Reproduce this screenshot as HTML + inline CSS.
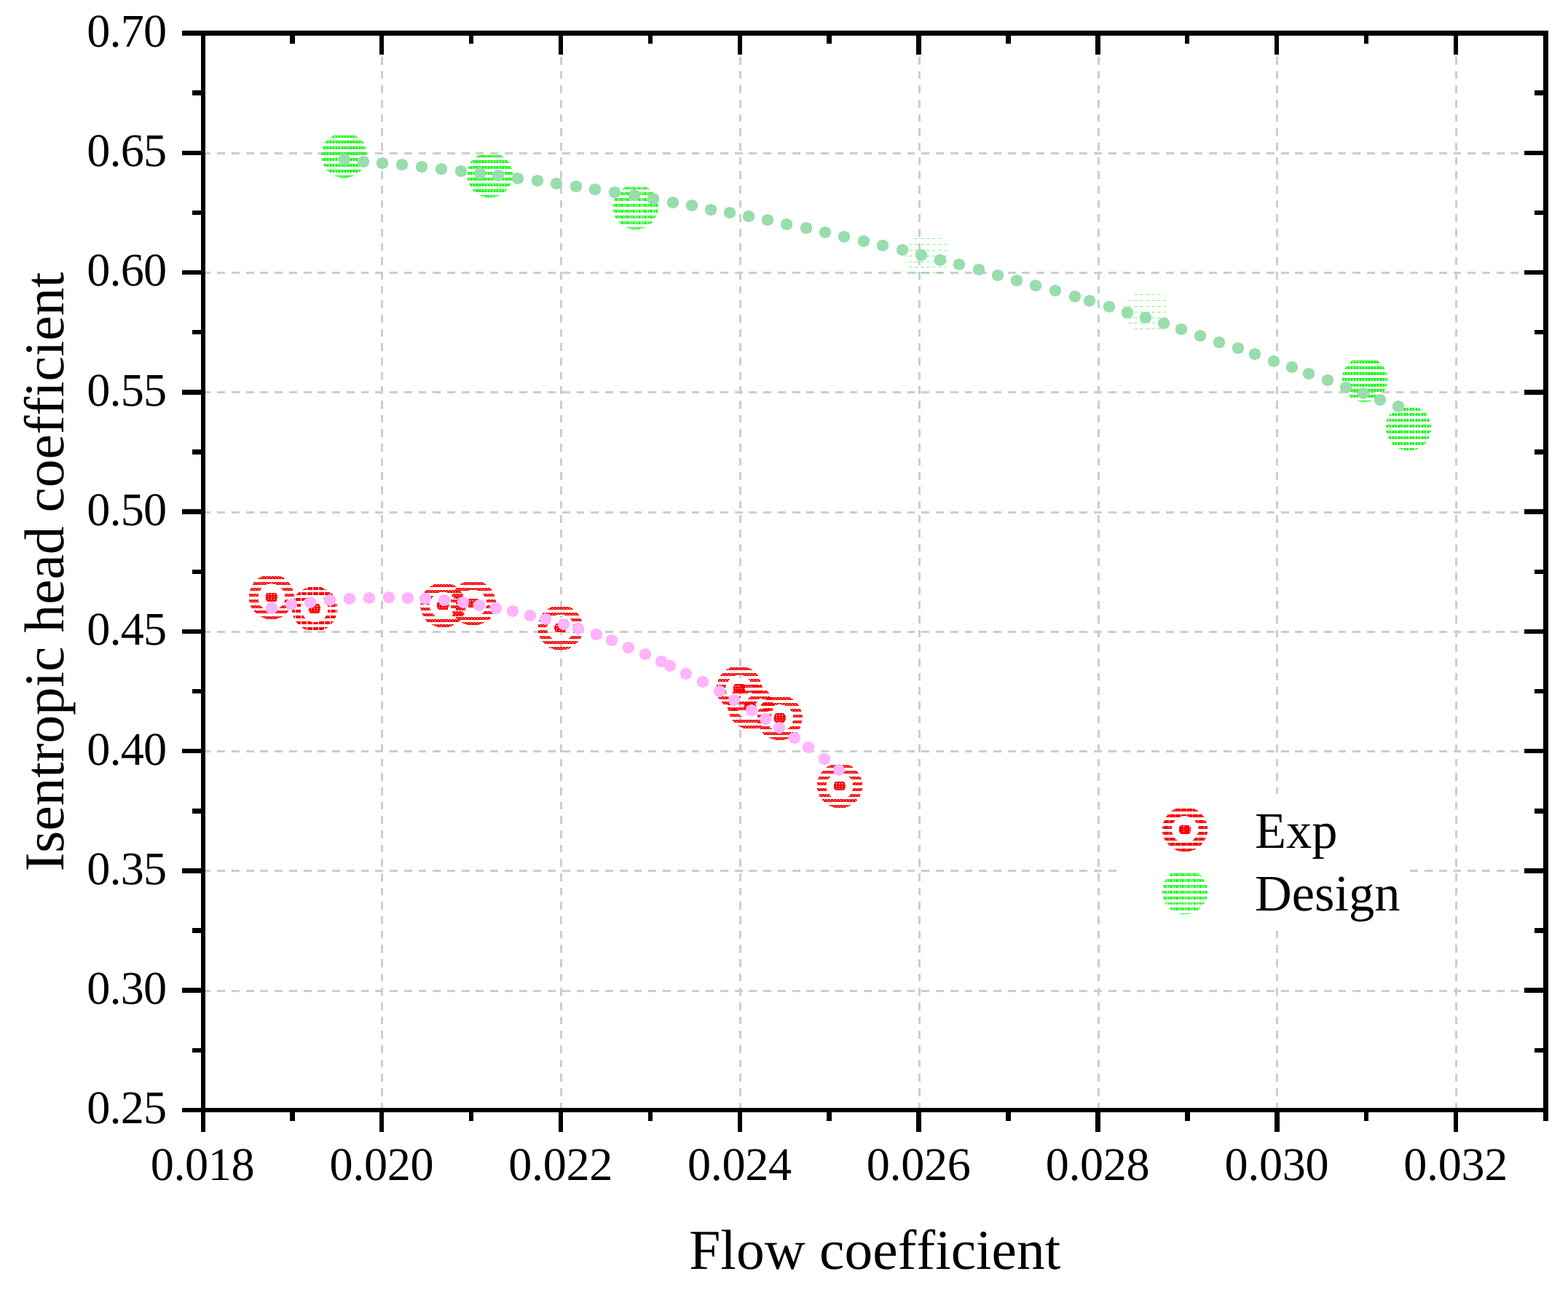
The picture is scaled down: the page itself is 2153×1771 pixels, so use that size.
<!DOCTYPE html>
<html lang="en"><head><meta charset="utf-8"><title>Isentropic head coefficient vs flow coefficient</title>
<style>
html,body{margin:0;padding:0;background:#fff;}
body{width:2153px;height:1771px;overflow:hidden;}
svg{display:block;}
text{font-family:'Liberation Serif', 'Times New Roman', serif;fill:#000;font-variant-ligatures:none;font-kerning:none;text-rendering:geometricPrecision;}
.tick{font-size:64.2px;letter-spacing:-0.85px;}
.title{font-size:77.5px;}
.leg{font-size:70.4px;}
</style></head><body>
<svg width="2153" height="1771" viewBox="0 0 2153 1771" role="img" aria-label="Isentropic head coefficient versus flow coefficient">
<defs>
<pattern id="p0" patternUnits="userSpaceOnUse" x="0" y="0" width="4" height="1"><path d="M0 0h2v1h-2zM3 0h1v1h-1z" fill="#ff0000"/></pattern>
<pattern id="p1" patternUnits="userSpaceOnUse" x="0" y="0" width="4" height="1"><path d="M1 0h3v1h-3z" fill="#ff0000"/></pattern>
<pattern id="p2" patternUnits="userSpaceOnUse" x="0" y="0" width="8" height="1"><path d="M0 0h4v1h-4zM5 0h3v1h-3z" fill="#ff0000"/></pattern>
<pattern id="p3" patternUnits="userSpaceOnUse" x="0" y="0" width="4" height="1"><path d="M0 0h2v1h-2z" fill="#00ff00"/></pattern>
<pattern id="p4" patternUnits="userSpaceOnUse" x="0" y="0" width="8" height="1"><path d="M0 0h7v1h-7z" fill="#00ff00"/></pattern>
<pattern id="p5" patternUnits="userSpaceOnUse" x="0" y="0" width="8" height="1"><path d="M0 0h1v1h-1zM3 0h2v1h-2zM7 0h1v1h-1z" fill="#00ff00"/></pattern>
<pattern id="p6" patternUnits="userSpaceOnUse" x="0" y="0" width="8" height="1"><path d="M0 0h1v1h-1zM3 0h2v1h-2zM6 0h1v1h-1z" fill="#00ff00"/></pattern>
<pattern id="p7" patternUnits="userSpaceOnUse" x="0" y="0" width="8" height="1"><path d="M1 0h1v1h-1zM7 0h1v1h-1z" fill="#00ff00"/></pattern>
<pattern id="p8" patternUnits="userSpaceOnUse" x="0" y="0" width="8" height="1"><path d="M1 0h6v1h-6z" fill="#00ff00"/></pattern>
<pattern id="p9" patternUnits="userSpaceOnUse" x="0" y="0" width="8" height="1"><path d="M0 0h3v1h-3zM5 0h2v1h-2z" fill="#00ff00"/></pattern>
<pattern id="p10" patternUnits="userSpaceOnUse" x="0" y="0" width="8" height="1"><path d="M1 0h2v1h-2zM5 0h2v1h-2z" fill="#00ff00"/></pattern>
<pattern id="p11" patternUnits="userSpaceOnUse" x="0" y="0" width="8" height="1"><path d="M0 0h1v1h-1zM2 0h6v1h-6z" fill="#ff0000"/></pattern>
<pattern id="p12" patternUnits="userSpaceOnUse" x="0" y="0" width="8" height="1"><path d="M0 0h5v1h-5zM6 0h2v1h-2z" fill="#ff0000"/></pattern>
</defs>
<rect x="0" y="0" width="2153" height="1771" fill="#ffffff"/>
<g id="grid" stroke="#cdcdcd" stroke-width="3" fill="none" shape-rendering="crispEdges">
<line x1="278.5" y1="210.5" x2="2100" y2="210.5" stroke-dasharray="10.850 8.886"/>
<line x1="278.5" y1="374.5" x2="2100" y2="374.5" stroke-dasharray="10.850 8.886"/>
<line x1="278.5" y1="538.5" x2="2100" y2="538.5" stroke-dasharray="10.850 8.886"/>
<line x1="278.5" y1="703.5" x2="2100" y2="703.5" stroke-dasharray="10.850 8.886"/>
<line x1="278.5" y1="867.5" x2="2100" y2="867.5" stroke-dasharray="10.850 8.886"/>
<line x1="278.5" y1="1031.5" x2="2100" y2="1031.5" stroke-dasharray="10.850 8.886"/>
<line x1="278.5" y1="1195.5" x2="2100" y2="1195.5" stroke-dasharray="10.850 8.886"/>
<line x1="278.5" y1="1360.5" x2="2100" y2="1360.5" stroke-dasharray="10.850 8.886"/>
<line x1="524.5" y1="58.24" x2="524.5" y2="1524" stroke-dasharray="10.850 8.817"/>
<line x1="770.5" y1="58.24" x2="770.5" y2="1524" stroke-dasharray="10.850 8.817"/>
<line x1="1016.5" y1="58.24" x2="1016.5" y2="1524" stroke-dasharray="10.850 8.817"/>
<line x1="1262.5" y1="58.24" x2="1262.5" y2="1524" stroke-dasharray="10.850 8.817"/>
<line x1="1508.5" y1="58.24" x2="1508.5" y2="1524" stroke-dasharray="10.850 8.817"/>
<line x1="1753.5" y1="58.24" x2="1753.5" y2="1524" stroke-dasharray="10.850 8.817"/>
<line x1="1999.5" y1="58.24" x2="1999.5" y2="1524" stroke-dasharray="10.850 8.817"/>
</g>
<g id="exp-inner" fill="#ffffff" shape-rendering="crispEdges">
<path d="M371 800h1v1h-1zM372 800h1v1h-1zM373 800h1v1h-1zM366 801h13v1h-13zM359 806h27v1h-27zM358 807h29v1h-29zM359 808h1v1h-1zM360 808h1v1h-1zM361 808h1v1h-1zM363 808h1v1h-1zM364 808h1v1h-1zM365 808h1v1h-1zM367 808h1v1h-1zM368 808h1v1h-1zM369 808h1v1h-1zM371 808h1v1h-1zM372 808h1v1h-1zM373 808h1v1h-1zM375 808h1v1h-1zM376 808h1v1h-1zM377 808h1v1h-1zM379 808h1v1h-1zM380 808h1v1h-1zM381 808h1v1h-1zM383 808h1v1h-1zM384 808h1v1h-1zM385 808h1v1h-1zM387 808h1v1h-1zM357 809h32v1h-32zM355 814h36v1h-36zM355 815h36v1h-36zM355 816h1v1h-1zM356 816h1v1h-1zM357 816h1v1h-1zM359 816h1v1h-1zM360 816h1v1h-1zM361 816h1v1h-1zM363 816h1v1h-1zM364 816h1v1h-1zM365 816h1v1h-1zM367 816h1v1h-1zM368 816h1v1h-1zM369 816h1v1h-1zM371 816h1v1h-1zM372 816h1v1h-1zM373 816h1v1h-1zM375 816h1v1h-1zM376 816h1v1h-1zM377 816h1v1h-1zM379 816h1v1h-1zM380 816h1v1h-1zM381 816h1v1h-1zM383 816h1v1h-1zM384 816h1v1h-1zM385 816h1v1h-1zM387 816h1v1h-1zM388 816h1v1h-1zM389 816h1v1h-1zM355 817h36v1h-36zM355 822h36v1h-36zM355 823h36v1h-36zM355 824h1v1h-1zM356 824h1v1h-1zM357 824h1v1h-1zM359 824h1v1h-1zM360 824h1v1h-1zM361 824h1v1h-1zM363 824h1v1h-1zM364 824h1v1h-1zM365 824h1v1h-1zM367 824h1v1h-1zM368 824h1v1h-1zM369 824h1v1h-1zM371 824h1v1h-1zM372 824h1v1h-1zM373 824h1v1h-1zM375 824h1v1h-1zM376 824h1v1h-1zM377 824h1v1h-1zM379 824h1v1h-1zM380 824h1v1h-1zM381 824h1v1h-1zM383 824h1v1h-1zM384 824h1v1h-1zM385 824h1v1h-1zM387 824h1v1h-1zM388 824h1v1h-1zM389 824h1v1h-1zM356 825h34v1h-34zM358 830h29v1h-29zM359 831h27v1h-27zM360 832h1v1h-1zM361 832h1v1h-1zM363 832h1v1h-1zM364 832h1v1h-1zM365 832h1v1h-1zM367 832h1v1h-1zM368 832h1v1h-1zM369 832h1v1h-1zM371 832h1v1h-1zM372 832h1v1h-1zM373 832h1v1h-1zM375 832h1v1h-1zM376 832h1v1h-1zM377 832h1v1h-1zM379 832h1v1h-1zM380 832h1v1h-1zM381 832h1v1h-1zM383 832h1v1h-1zM384 832h1v1h-1zM361 833h23v1h-23z"/>
<path d="M420 820h24v1h-24zM419 821h26v1h-26zM418 822h1v1h-1zM419 822h1v1h-1zM420 822h1v1h-1zM422 822h1v1h-1zM423 822h1v1h-1zM424 822h1v1h-1zM426 822h1v1h-1zM427 822h1v1h-1zM428 822h1v1h-1zM430 822h1v1h-1zM431 822h1v1h-1zM432 822h1v1h-1zM434 822h1v1h-1zM435 822h1v1h-1zM436 822h1v1h-1zM438 822h1v1h-1zM439 822h1v1h-1zM440 822h1v1h-1zM442 822h1v1h-1zM443 822h1v1h-1zM444 822h1v1h-1zM417 823h30v1h-30zM415 828h34v1h-34zM414 829h36v1h-36zM414 830h1v1h-1zM415 830h1v1h-1zM416 830h1v1h-1zM418 830h1v1h-1zM419 830h1v1h-1zM420 830h1v1h-1zM422 830h1v1h-1zM423 830h1v1h-1zM424 830h1v1h-1zM426 830h1v1h-1zM427 830h1v1h-1zM428 830h1v1h-1zM430 830h1v1h-1zM431 830h1v1h-1zM432 830h1v1h-1zM434 830h1v1h-1zM435 830h1v1h-1zM436 830h1v1h-1zM438 830h1v1h-1zM439 830h1v1h-1zM440 830h1v1h-1zM442 830h1v1h-1zM443 830h1v1h-1zM444 830h1v1h-1zM446 830h1v1h-1zM447 830h1v1h-1zM448 830h1v1h-1zM414 831h36v1h-36zM414 836h36v1h-36zM414 837h36v1h-36zM414 838h1v1h-1zM415 838h1v1h-1zM416 838h1v1h-1zM418 838h1v1h-1zM419 838h1v1h-1zM420 838h1v1h-1zM422 838h1v1h-1zM423 838h1v1h-1zM424 838h1v1h-1zM426 838h1v1h-1zM427 838h1v1h-1zM428 838h1v1h-1zM430 838h1v1h-1zM431 838h1v1h-1zM432 838h1v1h-1zM434 838h1v1h-1zM435 838h1v1h-1zM436 838h1v1h-1zM438 838h1v1h-1zM439 838h1v1h-1zM440 838h1v1h-1zM442 838h1v1h-1zM443 838h1v1h-1zM444 838h1v1h-1zM446 838h1v1h-1zM447 838h1v1h-1zM448 838h1v1h-1zM414 839h36v1h-36zM417 844h31v1h-31zM417 845h30v1h-30zM418 846h1v1h-1zM419 846h1v1h-1zM420 846h1v1h-1zM422 846h1v1h-1zM423 846h1v1h-1zM424 846h1v1h-1zM426 846h1v1h-1zM427 846h1v1h-1zM428 846h1v1h-1zM430 846h1v1h-1zM431 846h1v1h-1zM432 846h1v1h-1zM434 846h1v1h-1zM435 846h1v1h-1zM436 846h1v1h-1zM438 846h1v1h-1zM439 846h1v1h-1zM440 846h1v1h-1zM442 846h1v1h-1zM443 846h1v1h-1zM444 846h1v1h-1zM419 847h26v1h-26zM427 852h10v1h-10z"/>
<path d="M603 812h11v1h-11zM595 817h27v1h-27zM594 818h29v1h-29zM594 819h1v1h-1zM595 819h1v1h-1zM596 819h1v1h-1zM598 819h1v1h-1zM599 819h1v1h-1zM600 819h1v1h-1zM602 819h1v1h-1zM603 819h1v1h-1zM604 819h1v1h-1zM606 819h1v1h-1zM607 819h1v1h-1zM608 819h1v1h-1zM610 819h1v1h-1zM611 819h1v1h-1zM612 819h1v1h-1zM614 819h1v1h-1zM615 819h1v1h-1zM616 819h1v1h-1zM618 819h1v1h-1zM619 819h1v1h-1zM620 819h1v1h-1zM622 819h1v1h-1zM593 820h31v1h-31zM591 825h35v1h-35zM590 826h36v1h-36zM590 827h1v1h-1zM591 827h1v1h-1zM592 827h1v1h-1zM594 827h1v1h-1zM595 827h1v1h-1zM596 827h1v1h-1zM598 827h1v1h-1zM599 827h1v1h-1zM600 827h1v1h-1zM602 827h1v1h-1zM603 827h1v1h-1zM604 827h1v1h-1zM606 827h1v1h-1zM607 827h1v1h-1zM608 827h1v1h-1zM610 827h1v1h-1zM611 827h1v1h-1zM612 827h1v1h-1zM614 827h1v1h-1zM615 827h1v1h-1zM616 827h1v1h-1zM618 827h1v1h-1zM619 827h1v1h-1zM620 827h1v1h-1zM622 827h1v1h-1zM623 827h1v1h-1zM624 827h1v1h-1zM590 828h37v1h-37zM590 833h36v1h-36zM590 834h36v1h-36zM591 835h1v1h-1zM592 835h1v1h-1zM594 835h1v1h-1zM595 835h1v1h-1zM596 835h1v1h-1zM598 835h1v1h-1zM599 835h1v1h-1zM600 835h1v1h-1zM602 835h1v1h-1zM603 835h1v1h-1zM604 835h1v1h-1zM606 835h1v1h-1zM607 835h1v1h-1zM608 835h1v1h-1zM610 835h1v1h-1zM611 835h1v1h-1zM612 835h1v1h-1zM614 835h1v1h-1zM615 835h1v1h-1zM616 835h1v1h-1zM618 835h1v1h-1zM619 835h1v1h-1zM620 835h1v1h-1zM622 835h1v1h-1zM623 835h1v1h-1zM624 835h1v1h-1zM591 836h35v1h-35zM594 841h29v1h-29zM595 842h27v1h-27zM596 843h1v1h-1zM598 843h1v1h-1zM599 843h1v1h-1zM600 843h1v1h-1zM602 843h1v1h-1zM603 843h1v1h-1zM604 843h1v1h-1zM606 843h1v1h-1zM607 843h1v1h-1zM608 843h1v1h-1zM610 843h1v1h-1zM611 843h1v1h-1zM612 843h1v1h-1zM614 843h1v1h-1zM615 843h1v1h-1zM616 843h1v1h-1zM618 843h1v1h-1zM619 843h1v1h-1zM620 843h1v1h-1zM597 844h23v1h-23z"/>
<path d="M644 809h11v1h-11zM636 814h27v1h-27zM636 815h28v1h-28zM636 816h1v1h-1zM637 816h1v1h-1zM638 816h1v1h-1zM640 816h1v1h-1zM641 816h1v1h-1zM642 816h1v1h-1zM644 816h1v1h-1zM645 816h1v1h-1zM646 816h1v1h-1zM648 816h1v1h-1zM649 816h1v1h-1zM650 816h1v1h-1zM652 816h1v1h-1zM653 816h1v1h-1zM654 816h1v1h-1zM656 816h1v1h-1zM657 816h1v1h-1zM658 816h1v1h-1zM660 816h1v1h-1zM661 816h1v1h-1zM662 816h1v1h-1zM664 816h1v1h-1zM634 817h31v1h-31zM632 822h36v1h-36zM632 823h36v1h-36zM632 824h1v1h-1zM633 824h1v1h-1zM634 824h1v1h-1zM636 824h1v1h-1zM637 824h1v1h-1zM638 824h1v1h-1zM640 824h1v1h-1zM641 824h1v1h-1zM642 824h1v1h-1zM644 824h1v1h-1zM645 824h1v1h-1zM646 824h1v1h-1zM648 824h1v1h-1zM649 824h1v1h-1zM650 824h1v1h-1zM652 824h1v1h-1zM653 824h1v1h-1zM654 824h1v1h-1zM656 824h1v1h-1zM657 824h1v1h-1zM658 824h1v1h-1zM660 824h1v1h-1zM661 824h1v1h-1zM662 824h1v1h-1zM664 824h1v1h-1zM665 824h1v1h-1zM666 824h1v1h-1zM632 825h36v1h-36zM632 830h36v1h-36zM632 831h36v1h-36zM632 832h1v1h-1zM633 832h1v1h-1zM634 832h1v1h-1zM636 832h1v1h-1zM637 832h1v1h-1zM638 832h1v1h-1zM640 832h1v1h-1zM641 832h1v1h-1zM642 832h1v1h-1zM644 832h1v1h-1zM645 832h1v1h-1zM646 832h1v1h-1zM648 832h1v1h-1zM649 832h1v1h-1zM650 832h1v1h-1zM652 832h1v1h-1zM653 832h1v1h-1zM654 832h1v1h-1zM656 832h1v1h-1zM657 832h1v1h-1zM658 832h1v1h-1zM660 832h1v1h-1zM661 832h1v1h-1zM662 832h1v1h-1zM664 832h1v1h-1zM665 832h1v1h-1zM666 832h1v1h-1zM633 833h34v1h-34zM635 838h29v1h-29zM636 839h28v1h-28zM637 840h1v1h-1zM638 840h1v1h-1zM640 840h1v1h-1zM641 840h1v1h-1zM642 840h1v1h-1zM644 840h1v1h-1zM645 840h1v1h-1zM646 840h1v1h-1zM648 840h1v1h-1zM649 840h1v1h-1zM650 840h1v1h-1zM652 840h1v1h-1zM653 840h1v1h-1zM654 840h1v1h-1zM656 840h1v1h-1zM657 840h1v1h-1zM658 840h1v1h-1zM660 840h1v1h-1zM661 840h1v1h-1zM662 840h1v1h-1zM638 841h24v1h-24z"/>
<path d="M764 843h11v1h-11zM756 848h27v1h-27zM755 849h29v1h-29zM755 850h1v1h-1zM756 850h1v1h-1zM757 850h1v1h-1zM759 850h1v1h-1zM760 850h1v1h-1zM761 850h1v1h-1zM763 850h1v1h-1zM764 850h1v1h-1zM765 850h1v1h-1zM767 850h1v1h-1zM768 850h1v1h-1zM769 850h1v1h-1zM771 850h1v1h-1zM772 850h1v1h-1zM773 850h1v1h-1zM775 850h1v1h-1zM776 850h1v1h-1zM777 850h1v1h-1zM779 850h1v1h-1zM780 850h1v1h-1zM781 850h1v1h-1zM783 850h1v1h-1zM784 850h1v1h-1zM754 851h31v1h-31zM752 856h35v1h-35zM752 857h35v1h-35zM751 858h1v1h-1zM752 858h1v1h-1zM753 858h1v1h-1zM755 858h1v1h-1zM756 858h1v1h-1zM757 858h1v1h-1zM759 858h1v1h-1zM760 858h1v1h-1zM761 858h1v1h-1zM763 858h1v1h-1zM764 858h1v1h-1zM765 858h1v1h-1zM767 858h1v1h-1zM768 858h1v1h-1zM769 858h1v1h-1zM771 858h1v1h-1zM772 858h1v1h-1zM773 858h1v1h-1zM775 858h1v1h-1zM776 858h1v1h-1zM777 858h1v1h-1zM779 858h1v1h-1zM780 858h1v1h-1zM781 858h1v1h-1zM783 858h1v1h-1zM784 858h1v1h-1zM785 858h1v1h-1zM787 858h1v1h-1zM751 859h37v1h-37zM751 864h37v1h-37zM752 865h35v1h-35zM752 866h1v1h-1zM753 866h1v1h-1zM755 866h1v1h-1zM756 866h1v1h-1zM757 866h1v1h-1zM759 866h1v1h-1zM760 866h1v1h-1zM761 866h1v1h-1zM763 866h1v1h-1zM764 866h1v1h-1zM765 866h1v1h-1zM767 866h1v1h-1zM768 866h1v1h-1zM769 866h1v1h-1zM771 866h1v1h-1zM772 866h1v1h-1zM773 866h1v1h-1zM775 866h1v1h-1zM776 866h1v1h-1zM777 866h1v1h-1zM779 866h1v1h-1zM780 866h1v1h-1zM781 866h1v1h-1zM783 866h1v1h-1zM784 866h1v1h-1zM785 866h1v1h-1zM752 867h35v1h-35zM755 872h29v1h-29zM756 873h27v1h-27zM757 874h1v1h-1zM759 874h1v1h-1zM760 874h1v1h-1zM761 874h1v1h-1zM763 874h1v1h-1zM764 874h1v1h-1zM765 874h1v1h-1zM767 874h1v1h-1zM768 874h1v1h-1zM769 874h1v1h-1zM771 874h1v1h-1zM772 874h1v1h-1zM773 874h1v1h-1zM775 874h1v1h-1zM776 874h1v1h-1zM777 874h1v1h-1zM779 874h1v1h-1zM780 874h1v1h-1zM781 874h1v1h-1zM758 875h23v1h-23z"/>
<path d="M1010 926h10v1h-10zM1002 931h26v1h-26zM1001 932h28v1h-28zM1001 933h1v1h-1zM1002 933h1v1h-1zM1003 933h1v1h-1zM1005 933h1v1h-1zM1006 933h1v1h-1zM1007 933h1v1h-1zM1009 933h1v1h-1zM1010 933h1v1h-1zM1011 933h1v1h-1zM1013 933h1v1h-1zM1014 933h1v1h-1zM1015 933h1v1h-1zM1017 933h1v1h-1zM1018 933h1v1h-1zM1019 933h1v1h-1zM1021 933h1v1h-1zM1022 933h1v1h-1zM1023 933h1v1h-1zM1025 933h1v1h-1zM1026 933h1v1h-1zM1027 933h1v1h-1zM1029 933h1v1h-1zM1000 934h30v1h-30zM997 939h36v1h-36zM997 940h36v1h-36zM997 941h1v1h-1zM998 941h1v1h-1zM999 941h1v1h-1zM1001 941h1v1h-1zM1002 941h1v1h-1zM1003 941h1v1h-1zM1005 941h1v1h-1zM1006 941h1v1h-1zM1007 941h1v1h-1zM1009 941h1v1h-1zM1010 941h1v1h-1zM1011 941h1v1h-1zM1013 941h1v1h-1zM1014 941h1v1h-1zM1015 941h1v1h-1zM1017 941h1v1h-1zM1018 941h1v1h-1zM1019 941h1v1h-1zM1021 941h1v1h-1zM1022 941h1v1h-1zM1023 941h1v1h-1zM1025 941h1v1h-1zM1026 941h1v1h-1zM1027 941h1v1h-1zM1029 941h1v1h-1zM1030 941h1v1h-1zM1031 941h1v1h-1zM997 942h36v1h-36zM997 947h36v1h-36zM997 948h36v1h-36zM997 949h1v1h-1zM998 949h1v1h-1zM999 949h1v1h-1zM1001 949h1v1h-1zM1002 949h1v1h-1zM1003 949h1v1h-1zM1005 949h1v1h-1zM1006 949h1v1h-1zM1007 949h1v1h-1zM1009 949h1v1h-1zM1010 949h1v1h-1zM1011 949h1v1h-1zM1013 949h1v1h-1zM1014 949h1v1h-1zM1015 949h1v1h-1zM1017 949h1v1h-1zM1018 949h1v1h-1zM1019 949h1v1h-1zM1021 949h1v1h-1zM1022 949h1v1h-1zM1023 949h1v1h-1zM1025 949h1v1h-1zM1026 949h1v1h-1zM1027 949h1v1h-1zM1029 949h1v1h-1zM1030 949h1v1h-1zM1031 949h1v1h-1zM998 950h34v1h-34zM1000 955h30v1h-30zM1001 956h28v1h-28zM1002 957h1v1h-1zM1003 957h1v1h-1zM1005 957h1v1h-1zM1006 957h1v1h-1zM1007 957h1v1h-1zM1009 957h1v1h-1zM1010 957h1v1h-1zM1011 957h1v1h-1zM1013 957h1v1h-1zM1014 957h1v1h-1zM1015 957h1v1h-1zM1017 957h1v1h-1zM1018 957h1v1h-1zM1019 957h1v1h-1zM1021 957h1v1h-1zM1022 957h1v1h-1zM1023 957h1v1h-1zM1025 957h1v1h-1zM1026 957h1v1h-1zM1027 957h1v1h-1zM1003 958h24v1h-24z"/>
<path d="M1027 950h7v1h-7zM1018 955h25v1h-25zM1017 956h27v1h-27zM1016 957h1v1h-1zM1017 957h1v1h-1zM1018 957h1v1h-1zM1020 957h1v1h-1zM1021 957h1v1h-1zM1022 957h1v1h-1zM1024 957h1v1h-1zM1025 957h1v1h-1zM1026 957h1v1h-1zM1028 957h1v1h-1zM1029 957h1v1h-1zM1030 957h1v1h-1zM1032 957h1v1h-1zM1033 957h1v1h-1zM1034 957h1v1h-1zM1036 957h1v1h-1zM1037 957h1v1h-1zM1038 957h1v1h-1zM1040 957h1v1h-1zM1041 957h1v1h-1zM1042 957h1v1h-1zM1044 957h1v1h-1zM1015 958h31v1h-31zM1013 963h35v1h-35zM1012 964h36v1h-36zM1012 965h1v1h-1zM1013 965h1v1h-1zM1014 965h1v1h-1zM1016 965h1v1h-1zM1017 965h1v1h-1zM1018 965h1v1h-1zM1020 965h1v1h-1zM1021 965h1v1h-1zM1022 965h1v1h-1zM1024 965h1v1h-1zM1025 965h1v1h-1zM1026 965h1v1h-1zM1028 965h1v1h-1zM1029 965h1v1h-1zM1030 965h1v1h-1zM1032 965h1v1h-1zM1033 965h1v1h-1zM1034 965h1v1h-1zM1036 965h1v1h-1zM1037 965h1v1h-1zM1038 965h1v1h-1zM1040 965h1v1h-1zM1041 965h1v1h-1zM1042 965h1v1h-1zM1044 965h1v1h-1zM1045 965h1v1h-1zM1046 965h1v1h-1zM1012 966h36v1h-36zM1012 971h36v1h-36zM1012 972h36v1h-36zM1013 973h1v1h-1zM1014 973h1v1h-1zM1016 973h1v1h-1zM1017 973h1v1h-1zM1018 973h1v1h-1zM1020 973h1v1h-1zM1021 973h1v1h-1zM1022 973h1v1h-1zM1024 973h1v1h-1zM1025 973h1v1h-1zM1026 973h1v1h-1zM1028 973h1v1h-1zM1029 973h1v1h-1zM1030 973h1v1h-1zM1032 973h1v1h-1zM1033 973h1v1h-1zM1034 973h1v1h-1zM1036 973h1v1h-1zM1037 973h1v1h-1zM1038 973h1v1h-1zM1040 973h1v1h-1zM1041 973h1v1h-1zM1042 973h1v1h-1zM1044 973h1v1h-1zM1045 973h1v1h-1zM1046 973h1v1h-1zM1013 974h35v1h-35zM1015 979h30v1h-30zM1016 980h29v1h-29zM1017 981h1v1h-1zM1018 981h1v1h-1zM1020 981h1v1h-1zM1021 981h1v1h-1zM1022 981h1v1h-1zM1024 981h1v1h-1zM1025 981h1v1h-1zM1026 981h1v1h-1zM1028 981h1v1h-1zM1029 981h1v1h-1zM1030 981h1v1h-1zM1032 981h1v1h-1zM1033 981h1v1h-1zM1034 981h1v1h-1zM1036 981h1v1h-1zM1037 981h1v1h-1zM1038 981h1v1h-1zM1040 981h1v1h-1zM1041 981h1v1h-1zM1042 981h1v1h-1zM1018 982h25v1h-25z"/>
<path d="M1067 966h1v1h-1zM1069 966h1v1h-1zM1070 966h1v1h-1zM1071 966h1v1h-1zM1073 966h1v1h-1zM1064 967h14v1h-14zM1057 972h28v1h-28zM1056 973h29v1h-29zM1055 974h1v1h-1zM1057 974h1v1h-1zM1058 974h1v1h-1zM1059 974h1v1h-1zM1061 974h1v1h-1zM1062 974h1v1h-1zM1063 974h1v1h-1zM1065 974h1v1h-1zM1066 974h1v1h-1zM1067 974h1v1h-1zM1069 974h1v1h-1zM1070 974h1v1h-1zM1071 974h1v1h-1zM1073 974h1v1h-1zM1074 974h1v1h-1zM1075 974h1v1h-1zM1077 974h1v1h-1zM1078 974h1v1h-1zM1079 974h1v1h-1zM1081 974h1v1h-1zM1082 974h1v1h-1zM1083 974h1v1h-1zM1085 974h1v1h-1zM1055 975h32v1h-32zM1053 980h36v1h-36zM1053 981h36v1h-36zM1053 982h1v1h-1zM1054 982h1v1h-1zM1055 982h1v1h-1zM1057 982h1v1h-1zM1058 982h1v1h-1zM1059 982h1v1h-1zM1061 982h1v1h-1zM1062 982h1v1h-1zM1063 982h1v1h-1zM1065 982h1v1h-1zM1066 982h1v1h-1zM1067 982h1v1h-1zM1069 982h1v1h-1zM1070 982h1v1h-1zM1071 982h1v1h-1zM1073 982h1v1h-1zM1074 982h1v1h-1zM1075 982h1v1h-1zM1077 982h1v1h-1zM1078 982h1v1h-1zM1079 982h1v1h-1zM1081 982h1v1h-1zM1082 982h1v1h-1zM1083 982h1v1h-1zM1085 982h1v1h-1zM1086 982h1v1h-1zM1087 982h1v1h-1zM1052 983h37v1h-37zM1053 988h36v1h-36zM1053 989h35v1h-35zM1053 990h1v1h-1zM1054 990h1v1h-1zM1055 990h1v1h-1zM1057 990h1v1h-1zM1058 990h1v1h-1zM1059 990h1v1h-1zM1061 990h1v1h-1zM1062 990h1v1h-1zM1063 990h1v1h-1zM1065 990h1v1h-1zM1066 990h1v1h-1zM1067 990h1v1h-1zM1069 990h1v1h-1zM1070 990h1v1h-1zM1071 990h1v1h-1zM1073 990h1v1h-1zM1074 990h1v1h-1zM1075 990h1v1h-1zM1077 990h1v1h-1zM1078 990h1v1h-1zM1079 990h1v1h-1zM1081 990h1v1h-1zM1082 990h1v1h-1zM1083 990h1v1h-1zM1085 990h1v1h-1zM1086 990h1v1h-1zM1087 990h1v1h-1zM1054 991h34v1h-34zM1057 996h28v1h-28zM1057 997h27v1h-27zM1058 998h1v1h-1zM1059 998h1v1h-1zM1061 998h1v1h-1zM1062 998h1v1h-1zM1063 998h1v1h-1zM1065 998h1v1h-1zM1066 998h1v1h-1zM1067 998h1v1h-1zM1069 998h1v1h-1zM1070 998h1v1h-1zM1071 998h1v1h-1zM1073 998h1v1h-1zM1074 998h1v1h-1zM1075 998h1v1h-1zM1077 998h1v1h-1zM1078 998h1v1h-1zM1079 998h1v1h-1zM1081 998h1v1h-1zM1082 998h1v1h-1zM1060 999h22v1h-22z"/>
<path d="M1147 1060h12v1h-12zM1140 1065h26v1h-26zM1139 1066h28v1h-28zM1139 1067h1v1h-1zM1140 1067h1v1h-1zM1141 1067h1v1h-1zM1143 1067h1v1h-1zM1144 1067h1v1h-1zM1145 1067h1v1h-1zM1147 1067h1v1h-1zM1148 1067h1v1h-1zM1149 1067h1v1h-1zM1151 1067h1v1h-1zM1152 1067h1v1h-1zM1153 1067h1v1h-1zM1155 1067h1v1h-1zM1156 1067h1v1h-1zM1157 1067h1v1h-1zM1159 1067h1v1h-1zM1160 1067h1v1h-1zM1161 1067h1v1h-1zM1163 1067h1v1h-1zM1164 1067h1v1h-1zM1165 1067h1v1h-1zM1167 1067h1v1h-1zM1137 1068h32v1h-32zM1135 1073h36v1h-36zM1135 1074h36v1h-36zM1135 1075h1v1h-1zM1136 1075h1v1h-1zM1137 1075h1v1h-1zM1139 1075h1v1h-1zM1140 1075h1v1h-1zM1141 1075h1v1h-1zM1143 1075h1v1h-1zM1144 1075h1v1h-1zM1145 1075h1v1h-1zM1147 1075h1v1h-1zM1148 1075h1v1h-1zM1149 1075h1v1h-1zM1151 1075h1v1h-1zM1152 1075h1v1h-1zM1153 1075h1v1h-1zM1155 1075h1v1h-1zM1156 1075h1v1h-1zM1157 1075h1v1h-1zM1159 1075h1v1h-1zM1160 1075h1v1h-1zM1161 1075h1v1h-1zM1163 1075h1v1h-1zM1164 1075h1v1h-1zM1165 1075h1v1h-1zM1167 1075h1v1h-1zM1168 1075h1v1h-1zM1169 1075h1v1h-1zM1135 1076h36v1h-36zM1135 1081h36v1h-36zM1135 1082h36v1h-36zM1135 1083h1v1h-1zM1136 1083h1v1h-1zM1137 1083h1v1h-1zM1139 1083h1v1h-1zM1140 1083h1v1h-1zM1141 1083h1v1h-1zM1143 1083h1v1h-1zM1144 1083h1v1h-1zM1145 1083h1v1h-1zM1147 1083h1v1h-1zM1148 1083h1v1h-1zM1149 1083h1v1h-1zM1151 1083h1v1h-1zM1152 1083h1v1h-1zM1153 1083h1v1h-1zM1155 1083h1v1h-1zM1156 1083h1v1h-1zM1157 1083h1v1h-1zM1159 1083h1v1h-1zM1160 1083h1v1h-1zM1161 1083h1v1h-1zM1163 1083h1v1h-1zM1164 1083h1v1h-1zM1165 1083h1v1h-1zM1167 1083h1v1h-1zM1168 1083h1v1h-1zM1169 1083h1v1h-1zM1136 1084h34v1h-34zM1139 1089h28v1h-28zM1139 1090h28v1h-28zM1140 1091h1v1h-1zM1141 1091h1v1h-1zM1143 1091h1v1h-1zM1144 1091h1v1h-1zM1145 1091h1v1h-1zM1147 1091h1v1h-1zM1148 1091h1v1h-1zM1149 1091h1v1h-1zM1151 1091h1v1h-1zM1152 1091h1v1h-1zM1153 1091h1v1h-1zM1155 1091h1v1h-1zM1156 1091h1v1h-1zM1157 1091h1v1h-1zM1159 1091h1v1h-1zM1160 1091h1v1h-1zM1161 1091h1v1h-1zM1163 1091h1v1h-1zM1164 1091h1v1h-1zM1165 1091h1v1h-1zM1141 1092h24v1h-24z"/>
</g>
<rect id="legend-bg" x="1534" y="1090" width="401" height="187" fill="#ffffff"/>
<g id="series-exp" shape-rendering="crispEdges">
<g transform="translate(342,0)"><path fill="url(#p0)" d="M17 791h27v1h-27zM7 799h47v1h-47zM2 807h15v1h-15zM44 807h15v1h-15zM0 815h13v1h-13zM49 815h12v1h-12zM0 823h13v1h-13zM49 823h13v1h-13zM2 831h14v1h-14zM45 831h15v1h-15zM7 838h48v1h-48zM16 846h30v1h-30zM24 815h14v1h-14zM23 816h15v1h-15zM23 819h16v1h-16zM23 822h16v1h-16z"/><path fill="#ff0000" d="M16 792h30v1h-30zM12 794h37v1h-37zM6 800h49v1h-49zM5 802h19v1h-19zM37 802h20v1h-20zM2 808h14v1h-14zM45 808h15v1h-15zM1 810h14v1h-14zM47 810h13v1h-13zM0 816h13v1h-13zM49 816h13v1h-13zM0 818h13v1h-13zM49 818h13v1h-13zM0 824h13v1h-13zM49 824h12v1h-12zM0 826h14v1h-14zM48 826h13v1h-13zM2 832h15v1h-15zM44 832h15v1h-15zM3 834h16v1h-16zM42 834h16v1h-16zM7 839h47v1h-47zM9 841h43v1h-43zM18 847h26v1h-26zM23 849h15v1h-15zM24 814h13v1h-13zM23 817h16v1h-16zM23 818h16v1h-16zM23 820h16v1h-16zM23 821h16v1h-16zM23 823h15v1h-15zM24 824h14v1h-14zM25 825h12v1h-12z"/><path fill="url(#p1)" d="M14 793h34v1h-34zM6 801h22v1h-22zM33 801h23v1h-23zM2 809h14v1h-14zM46 809h14v1h-14zM0 817h13v1h-13zM49 817h13v1h-13zM0 825h13v1h-13zM48 825h13v1h-13zM3 833h15v1h-15zM43 833h16v1h-16zM8 840h45v1h-45zM20 848h21v1h-21z"/></g>
<g transform="translate(401,0)"><path fill="url(#p2)" d="M22 806h19v1h-19zM19 807h24v1h-24zM17 808h28v1h-28zM15 809h32v1h-32zM9 813h44v1h-44zM8 814h46v1h-46zM7 815h48v1h-48zM6 816h50v1h-50zM3 821h16v1h-16zM43 821h16v1h-16zM3 822h15v1h-15zM44 822h15v1h-15zM2 823h15v1h-15zM45 823h15v1h-15zM2 824h14v1h-14zM46 824h14v1h-14zM1 829h13v1h-13zM48 829h14v1h-14zM0 830h13v1h-13zM49 830h13v1h-13zM0 831h13v1h-13zM49 831h13v1h-13zM0 832h13v1h-13zM49 832h13v1h-13zM0 837h13v1h-13zM49 837h13v1h-13zM0 838h13v1h-13zM49 838h13v1h-13zM0 839h13v1h-13zM49 839h13v1h-13zM0 840h13v1h-13zM49 840h13v1h-13zM2 845h14v1h-14zM47 845h13v1h-13zM2 846h14v1h-14zM46 846h14v1h-14zM2 847h15v1h-15zM45 847h15v1h-15zM3 848h15v1h-15zM44 848h15v1h-15zM6 853h20v1h-20zM36 853h21v1h-21zM6 854h50v1h-50zM7 855h48v1h-48zM8 856h46v1h-46zM14 861h35v1h-35zM15 862h32v1h-32zM17 863h28v1h-28zM19 864h24v1h-24z"/><path fill="#ff0000" d="M25 829h12v1h-12zM24 830h14v1h-14zM23 833h16v1h-16zM23 834h16v1h-16zM23 836h16v1h-16zM23 837h16v1h-16zM24 839h14v1h-14zM24 840h14v1h-14zM25 841h12v1h-12z"/><path fill="url(#p0)" d="M24 831h14v1h-14zM23 832h16v1h-16zM23 835h16v1h-16zM23 838h16v1h-16z"/></g>
<g transform="translate(577,0)"><path fill="url(#p0)" d="M19 802h25v1h-25zM8 810h47v1h-47zM3 818h15v1h-15zM45 818h15v1h-15zM1 826h13v1h-13zM49 826h13v1h-13zM0 834h13v1h-13zM49 834h13v1h-13zM2 842h15v1h-15zM46 842h14v1h-14zM7 850h49v1h-49zM16 857h31v1h-31zM24 827h15v1h-15zM23 828h16v1h-16zM23 831h17v1h-17zM24 834h15v1h-15z"/><path fill="#ff0000" d="M17 803h29v1h-29zM13 805h36v1h-36zM7 811h48v1h-48zM6 813h20v1h-20zM37 813h20v1h-20zM3 819h14v1h-14zM46 819h14v1h-14zM2 821h14v1h-14zM47 821h14v1h-14zM1 827h12v1h-12zM49 827h13v1h-13zM0 829h13v1h-13zM50 829h12v1h-12zM1 835h12v1h-12zM49 835h13v1h-13zM1 837h13v1h-13zM49 837h13v1h-13zM3 843h15v1h-15zM45 843h15v1h-15zM4 845h16v1h-16zM43 845h16v1h-16zM8 851h47v1h-47zM9 853h44v1h-44zM18 858h27v1h-27zM23 860h17v1h-17zM25 825h12v1h-12zM24 826h14v1h-14zM23 829h16v1h-16zM23 830h17v1h-17zM23 832h16v1h-16zM23 833h16v1h-16zM24 835h14v1h-14zM25 836h13v1h-13z"/><path fill="url(#p1)" d="M15 804h33v1h-33zM6 812h50v1h-50zM2 820h14v1h-14zM46 820h14v1h-14zM0 828h13v1h-13zM49 828h13v1h-13zM1 836h13v1h-13zM49 836h13v1h-13zM3 844h16v1h-16zM44 844h15v1h-15zM8 852h46v1h-46zM20 859h23v1h-23z"/></g>
<g transform="translate(619,0)"><path fill="url(#p0)" d="M18 799h26v1h-26zM7 807h47v1h-47zM2 815h15v1h-15zM44 815h15v1h-15zM0 823h13v1h-13zM49 823h12v1h-12zM0 831h13v1h-13zM49 831h13v1h-13zM2 839h14v1h-14zM45 839h15v1h-15zM6 847h49v1h-49zM15 854h31v1h-31zM23 824h15v1h-15zM23 825h16v1h-16zM23 828h16v1h-16zM23 831h15v1h-15z"/><path fill="#ff0000" d="M16 800h30v1h-30zM13 802h36v1h-36zM7 808h48v1h-48zM5 810h20v1h-20zM36 810h20v1h-20zM2 816h15v1h-15zM45 816h15v1h-15zM1 818h14v1h-14zM46 818h14v1h-14zM0 824h13v1h-13zM49 824h13v1h-13zM0 826h13v1h-13zM49 826h13v1h-13zM0 832h13v1h-13zM49 832h13v1h-13zM0 834h14v1h-14zM48 834h13v1h-13zM2 840h15v1h-15zM45 840h14v1h-14zM3 842h16v1h-16zM43 842h15v1h-15zM7 848h48v1h-48zM9 850h44v1h-44zM17 855h27v1h-27zM22 857h17v1h-17zM25 822h12v1h-12zM24 823h14v1h-14zM23 826h16v1h-16zM23 827h16v1h-16zM23 829h16v1h-16zM23 830h16v1h-16zM24 832h14v1h-14zM24 833h13v1h-13z"/><path fill="url(#p1)" d="M14 801h33v1h-33zM6 809h50v1h-50zM2 817h14v1h-14zM46 817h14v1h-14zM0 825h13v1h-13zM49 825h13v1h-13zM0 833h13v1h-13zM48 833h13v1h-13zM3 841h15v1h-15zM44 841h15v1h-15zM8 849h46v1h-46zM19 856h23v1h-23z"/></g>
<g transform="translate(738,0)"><path fill="url(#p0)" d="M19 833h25v1h-25zM8 841h47v1h-47zM3 849h15v1h-15zM45 849h15v1h-15zM1 857h13v1h-13zM49 857h13v1h-13zM1 865h12v1h-12zM50 865h12v1h-12zM3 873h14v1h-14zM46 873h14v1h-14zM7 880h49v1h-49zM16 888h31v1h-31zM24 858h15v1h-15zM24 859h15v1h-15zM23 862h17v1h-17zM24 865h15v1h-15z"/><path fill="#ff0000" d="M17 834h29v1h-29zM14 836h35v1h-35zM7 842h49v1h-49zM6 844h20v1h-20zM37 844h20v1h-20zM3 850h14v1h-14zM46 850h14v1h-14zM2 852h14v1h-14zM47 852h14v1h-14zM1 858h13v1h-13zM49 858h13v1h-13zM1 860h12v1h-12zM50 860h12v1h-12zM1 866h13v1h-13zM49 866h13v1h-13zM1 868h13v1h-13zM49 868h13v1h-13zM3 874h15v1h-15zM45 874h15v1h-15zM4 876h16v1h-16zM43 876h16v1h-16zM8 881h47v1h-47zM10 883h43v1h-43zM18 889h27v1h-27zM23 891h17v1h-17zM25 856h13v1h-13zM25 857h13v1h-13zM23 860h17v1h-17zM23 861h17v1h-17zM23 863h17v1h-17zM24 864h15v1h-15zM24 866h15v1h-15zM25 867h13v1h-13z"/><path fill="url(#p1)" d="M15 835h33v1h-33zM7 843h49v1h-49zM2 851h14v1h-14zM47 851h14v1h-14zM1 859h12v1h-12zM50 859h12v1h-12zM1 867h13v1h-13zM49 867h13v1h-13zM3 875h16v1h-16zM44 875h16v1h-16zM9 882h45v1h-45zM20 890h23v1h-23z"/></g>
<g transform="translate(984,0)"><path fill="url(#p0)" d="M19 916h24v1h-24zM8 924h46v1h-46zM3 932h15v1h-15zM44 932h15v1h-15zM0 940h13v1h-13zM49 940h13v1h-13zM0 948h13v1h-13zM49 948h13v1h-13zM2 956h14v1h-14zM46 956h14v1h-14zM6 963h50v1h-50zM15 971h32v1h-32zM24 941h14v1h-14zM23 942h16v1h-16zM23 945h16v1h-16zM23 948h16v1h-16z"/><path fill="#ff0000" d="M17 917h28v1h-28zM13 919h36v1h-36zM7 925h48v1h-48zM5 927h21v1h-21zM36 927h21v1h-21zM2 933h15v1h-15zM45 933h15v1h-15zM2 935h14v1h-14zM46 935h14v1h-14zM0 941h13v1h-13zM49 941h13v1h-13zM0 943h13v1h-13zM49 943h13v1h-13zM0 949h13v1h-13zM49 949h13v1h-13zM1 951h13v1h-13zM48 951h13v1h-13zM2 957h15v1h-15zM45 957h15v1h-15zM3 959h16v1h-16zM43 959h16v1h-16zM7 964h48v1h-48zM9 966h44v1h-44zM17 972h28v1h-28zM22 974h18v1h-18zM25 939h12v1h-12zM24 940h14v1h-14zM23 943h16v1h-16zM23 944h16v1h-16zM23 946h16v1h-16zM23 947h16v1h-16zM24 949h14v1h-14zM24 950h14v1h-14zM25 951h12v1h-12z"/><path fill="url(#p1)" d="M15 918h32v1h-32zM6 926h50v1h-50zM2 934h14v1h-14zM46 934h14v1h-14zM0 942h13v1h-13zM49 942h13v1h-13zM0 950h13v1h-13zM49 950h13v1h-13zM3 958h15v1h-15zM44 958h15v1h-15zM8 965h46v1h-46zM19 973h24v1h-24z"/></g>
<g transform="translate(999,0)"><path fill="url(#p0)" d="M20 940h23v1h-23zM8 948h46v1h-46zM3 956h16v1h-16zM44 956h15v1h-15zM1 964h13v1h-13zM49 964h13v1h-13zM0 972h13v1h-13zM49 972h13v1h-13zM2 980h14v1h-14zM46 980h14v1h-14zM6 988h50v1h-50zM15 996h33v1h-33zM24 965h14v1h-14zM24 966h15v1h-15zM23 969h17v1h-17zM23 972h16v1h-16z"/><path fill="#ff0000" d="M18 941h27v1h-27zM14 943h34v1h-34zM8 949h47v1h-47zM6 951h22v1h-22zM35 951h22v1h-22zM3 957h15v1h-15zM45 957h15v1h-15zM2 959h14v1h-14zM47 959h14v1h-14zM1 965h12v1h-12zM49 965h13v1h-13zM0 967h13v1h-13zM49 967h13v1h-13zM1 973h12v1h-12zM49 973h13v1h-13zM1 975h13v1h-13zM49 975h13v1h-13zM3 981h14v1h-14zM46 981h14v1h-14zM3 983h16v1h-16zM44 983h15v1h-15zM7 989h48v1h-48zM9 991h45v1h-45zM17 997h29v1h-29zM21 999h21v1h-21zM25 964h13v1h-13zM23 967h16v1h-16zM23 968h16v1h-16zM23 970h17v1h-17zM23 971h16v1h-16zM24 973h15v1h-15zM24 974h14v1h-14zM25 975h12v1h-12z"/><path fill="url(#p1)" d="M16 942h31v1h-31zM7 950h49v1h-49zM2 958h15v1h-15zM46 958h14v1h-14zM0 966h13v1h-13zM49 966h13v1h-13zM1 974h13v1h-13zM49 974h13v1h-13zM3 982h15v1h-15zM45 982h15v1h-15zM8 990h47v1h-47zM19 998h25v1h-25z"/></g>
<g transform="translate(1040,0)"><path fill="url(#p0)" d="M17 957h28v1h-28zM7 965h47v1h-47zM2 973h15v1h-15zM45 973h14v1h-14zM0 981h13v1h-13zM49 981h12v1h-12zM0 989h13v1h-13zM49 989h12v1h-12zM2 997h15v1h-15zM45 997h14v1h-14zM7 1005h48v1h-48zM16 1012h29v1h-29zM24 981h14v1h-14zM23 982h15v1h-15zM22 985h17v1h-17zM23 988h15v1h-15z"/><path fill="#ff0000" d="M15 958h31v1h-31zM12 960h37v1h-37zM6 966h49v1h-49zM5 968h19v1h-19zM38 968h19v1h-19zM2 974h14v1h-14zM45 974h15v1h-15zM1 976h14v1h-14zM47 976h13v1h-13zM0 982h13v1h-13zM49 982h13v1h-13zM0 984h12v1h-12zM49 984h13v1h-13zM0 990h13v1h-13zM48 990h13v1h-13zM0 992h14v1h-14zM48 992h13v1h-13zM2 998h15v1h-15zM44 998h15v1h-15zM3 1000h17v1h-17zM42 1000h16v1h-16zM7 1006h47v1h-47zM9 1008h43v1h-43zM18 1013h25v1h-25zM24 1015h13v1h-13zM25 979h11v1h-11zM24 980h13v1h-13zM23 983h16v1h-16zM23 984h16v1h-16zM22 986h17v1h-17zM23 987h16v1h-16zM23 989h15v1h-15zM24 990h13v1h-13zM25 991h12v1h-12z"/><path fill="url(#p1)" d="M13 959h35v1h-35zM5 967h22v1h-22zM34 967h22v1h-22zM1 975h14v1h-14zM46 975h14v1h-14zM0 983h13v1h-13zM49 983h13v1h-13zM0 991h13v1h-13zM48 991h13v1h-13zM3 999h15v1h-15zM43 999h16v1h-16zM8 1007h45v1h-45zM21 1014h20v1h-20z"/></g>
<g transform="translate(1122,0)"><path fill="url(#p0)" d="M18 1050h26v1h-26zM8 1058h46v1h-46zM3 1066h15v1h-15zM44 1066h15v1h-15zM0 1074h13v1h-13zM49 1074h13v1h-13zM0 1082h13v1h-13zM49 1082h13v1h-13zM2 1090h15v1h-15zM45 1090h15v1h-15zM7 1097h48v1h-48zM16 1105h30v1h-30zM24 1075h14v1h-14zM23 1076h16v1h-16zM23 1079h16v1h-16zM23 1082h16v1h-16z"/><path fill="#ff0000" d="M16 1051h30v1h-30zM13 1053h36v1h-36zM7 1059h48v1h-48zM5 1061h20v1h-20zM37 1061h20v1h-20zM2 1067h15v1h-15zM45 1067h15v1h-15zM1 1069h14v1h-14zM47 1069h14v1h-14zM0 1075h13v1h-13zM49 1075h13v1h-13zM0 1077h13v1h-13zM49 1077h13v1h-13zM0 1083h13v1h-13zM49 1083h13v1h-13zM1 1085h13v1h-13zM48 1085h13v1h-13zM3 1091h14v1h-14zM45 1091h14v1h-14zM3 1093h16v1h-16zM43 1093h16v1h-16zM7 1098h48v1h-48zM9 1100h44v1h-44zM18 1106h26v1h-26zM23 1108h16v1h-16zM25 1073h12v1h-12zM24 1074h14v1h-14zM23 1077h16v1h-16zM23 1078h16v1h-16zM23 1080h16v1h-16zM23 1081h16v1h-16zM24 1083h14v1h-14zM25 1084h12v1h-12z"/><path fill="url(#p1)" d="M14 1052h34v1h-34zM6 1060h50v1h-50zM2 1068h14v1h-14zM46 1068h14v1h-14zM0 1076h13v1h-13zM49 1076h13v1h-13zM0 1084h13v1h-13zM49 1084h13v1h-13zM3 1092h15v1h-15zM44 1092h15v1h-15zM8 1099h46v1h-46zM20 1107h22v1h-22z"/></g>
</g>
<g id="fit-exp" fill="#ffb4fc" shape-rendering="crispEdges">
<path d="M371 827h4v1h3v1h1v1h1v2h1v6h-1v2h-1v1h-1v1h-3v1h-4v-1h-3v-1h-1v-1h-1v-2h-1v-6h1v-2h1v-1h1v-1h3zM398 822h4v1h3v1h1v1h1v2h1v6h-1v2h-1v1h-1v1h-3v1h-4v-1h-3v-1h-1v-1h-1v-2h-1v-6h1v-2h1v-1h1v-1h3zM424 819h4v1h3v1h1v1h1v2h1v6h-1v2h-1v1h-1v1h-3v1h-4v-1h-3v-1h-1v-1h-1v-2h-1v-6h1v-2h1v-1h1v-1h3zM451 816h4v1h3v1h1v1h1v2h1v6h-1v2h-1v1h-1v1h-3v1h-4v-1h-3v-1h-1v-1h-1v-2h-1v-6h1v-2h1v-1h1v-1h3zM478 814h4v1h3v1h1v1h1v2h1v6h-1v2h-1v1h-1v1h-3v1h-4v-1h-3v-1h-1v-1h-1v-2h-1v-6h1v-2h1v-1h1v-1h3zM505 813h4v1h3v1h1v1h1v2h1v6h-1v2h-1v1h-1v1h-3v1h-4v-1h-3v-1h-1v-1h-1v-2h-1v-6h1v-2h1v-1h1v-1h3zM532 812h4v1h3v1h1v1h1v2h1v6h-1v2h-1v1h-1v1h-3v1h-4v-1h-3v-1h-1v-1h-1v-2h-1v-6h1v-2h1v-1h1v-1h3zM558 813h4v1h3v1h1v1h1v2h1v6h-1v2h-1v1h-1v1h-3v1h-4v-1h-3v-1h-1v-1h-1v-2h-1v-6h1v-2h1v-1h1v-1h3zM582 814h4v1h3v1h1v1h1v2h1v6h-1v2h-1v1h-1v1h-3v1h-4v-1h-3v-1h-1v-1h-1v-2h-1v-6h1v-2h1v-1h1v-1h3zM608 816h4v1h3v1h1v1h1v2h1v6h-1v2h-1v1h-1v1h-3v1h-4v-1h-3v-1h-1v-1h-1v-2h-1v-6h1v-2h1v-1h1v-1h3zM634 819h4v1h3v1h1v1h1v2h1v6h-1v2h-1v1h-1v1h-3v1h-4v-1h-3v-1h-1v-1h-1v-2h-1v-6h1v-2h1v-1h1v-1h3zM656 823h4v1h3v1h1v1h1v2h1v6h-1v2h-1v1h-1v1h-3v1h-4v-1h-3v-1h-1v-1h-1v-2h-1v-6h1v-2h1v-1h1v-1h3zM679 827h4v1h3v1h1v1h1v2h1v6h-1v2h-1v1h-1v1h-3v1h-4v-1h-3v-1h-1v-1h-1v-2h-1v-6h1v-2h1v-1h1v-1h3zM702 831h4v1h3v1h1v1h1v2h1v6h-1v2h-1v1h-1v1h-3v1h-4v-1h-3v-1h-1v-1h-1v-2h-1v-6h1v-2h1v-1h1v-1h3zM726 837h4v1h3v1h1v1h1v2h1v6h-1v2h-1v1h-1v1h-3v1h-4v-1h-3v-1h-1v-1h-1v-2h-1v-6h1v-2h1v-1h1v-1h3zM747 842h4v1h3v1h1v1h1v2h1v6h-1v2h-1v1h-1v1h-3v1h-4v-1h-3v-1h-1v-1h-1v-2h-1v-6h1v-2h1v-1h1v-1h3zM772 849h4v1h3v1h1v1h1v2h1v6h-1v2h-1v1h-1v1h-3v1h-4v-1h-3v-1h-1v-1h-1v-2h-1v-6h1v-2h1v-1h1v-1h3zM792 855h4v1h3v1h1v1h1v2h1v6h-1v2h-1v1h-1v1h-3v1h-4v-1h-3v-1h-1v-1h-1v-2h-1v-6h1v-2h1v-1h1v-1h3zM817 863h4v1h3v1h1v1h1v2h1v6h-1v2h-1v1h-1v1h-3v1h-4v-1h-3v-1h-1v-1h-1v-2h-1v-6h1v-2h1v-1h1v-1h3zM838 871h4v1h3v1h1v1h1v2h1v6h-1v2h-1v1h-1v1h-3v1h-4v-1h-3v-1h-1v-1h-1v-2h-1v-6h1v-2h1v-1h1v-1h3zM861 881h4v1h3v1h1v1h1v2h1v6h-1v2h-1v1h-1v1h-3v1h-4v-1h-3v-1h-1v-1h-1v-2h-1v-6h1v-2h1v-1h1v-1h3zM884 890h4v1h3v1h1v1h1v2h1v6h-1v2h-1v1h-1v1h-3v1h-4v-1h-3v-1h-1v-1h-1v-2h-1v-6h1v-2h1v-1h1v-1h3zM906 900h4v1h3v1h1v1h1v2h1v6h-1v2h-1v1h-1v1h-3v1h-4v-1h-3v-1h-1v-1h-1v-2h-1v-6h1v-2h1v-1h1v-1h3zM918 906h4v1h3v1h1v1h1v2h1v6h-1v2h-1v1h-1v1h-3v1h-4v-1h-3v-1h-1v-1h-1v-2h-1v-6h1v-2h1v-1h1v-1h3zM940 917h4v1h3v1h1v1h1v2h1v6h-1v2h-1v1h-1v1h-3v1h-4v-1h-3v-1h-1v-1h-1v-2h-1v-6h1v-2h1v-1h1v-1h3zM963 928h4v1h3v1h1v1h1v2h1v6h-1v2h-1v1h-1v1h-3v1h-4v-1h-3v-1h-1v-1h-1v-2h-1v-6h1v-2h1v-1h1v-1h3zM986 941h4v1h3v1h1v1h1v2h1v6h-1v2h-1v1h-1v1h-3v1h-4v-1h-3v-1h-1v-1h-1v-2h-1v-6h1v-2h1v-1h1v-1h3zM1006 953h4v1h3v1h1v1h1v2h1v6h-1v2h-1v1h-1v1h-3v1h-4v-1h-3v-1h-1v-1h-1v-2h-1v-6h1v-2h1v-1h1v-1h3zM1030 967h4v1h3v1h1v1h1v2h1v6h-1v2h-1v1h-1v1h-3v1h-4v-1h-3v-1h-1v-1h-1v-2h-1v-6h1v-2h1v-1h1v-1h3zM1049 979h4v1h3v1h1v1h1v2h1v6h-1v2h-1v1h-1v1h-3v1h-4v-1h-3v-1h-1v-1h-1v-2h-1v-6h1v-2h1v-1h1v-1h3zM1068 991h4v1h3v1h1v1h1v2h1v6h-1v2h-1v1h-1v1h-3v1h-4v-1h-3v-1h-1v-1h-1v-2h-1v-6h1v-2h1v-1h1v-1h3zM1089 1005h4v1h3v1h1v1h1v2h1v6h-1v2h-1v1h-1v1h-3v1h-4v-1h-3v-1h-1v-1h-1v-2h-1v-6h1v-2h1v-1h1v-1h3zM1108 1018h4v1h3v1h1v1h1v2h1v6h-1v2h-1v1h-1v1h-3v1h-4v-1h-3v-1h-1v-1h-1v-2h-1v-6h1v-2h1v-1h1v-1h3zM1130 1034h4v1h3v1h1v1h1v2h1v6h-1v2h-1v1h-1v1h-3v1h-4v-1h-3v-1h-1v-1h-1v-2h-1v-6h1v-2h1v-1h1v-1h3zM1150 1049h4v1h3v1h1v1h1v2h1v6h-1v2h-1v1h-1v1h-3v1h-4v-1h-3v-1h-1v-1h-1v-2h-1v-6h1v-2h1v-1h1v-1h3z"/>
</g>
<g id="series-design" shape-rendering="crispEdges">
<g transform="translate(441,0)"><path fill="#00ff00" d="M16 186h31v1h-31zM13 188h37v1h-37zM7 193h49v1h-49zM5 195h53v1h-53zM2 201h58v1h-58zM2 203h59v1h-59zM1 209h61v1h-61zM0 211h62v1h-62zM1 217h61v1h-61zM1 219h61v1h-61zM3 225h57v1h-57zM4 227h55v1h-55zM8 233h47v1h-47zM10 235h43v1h-43zM19 241h25v1h-25zM26 243h11v1h-11z"/><path fill="url(#p3)" d="M14 187h35v1h-35zM6 194h51v1h-51zM5 196h53v1h-53zM2 202h59v1h-59zM1 204h60v1h-60zM1 210h61v1h-61zM0 212h62v1h-62zM1 218h61v1h-61zM1 220h60v1h-60zM4 226h55v1h-55zM5 228h53v1h-53zM9 234h45v1h-45zM11 236h41v1h-41zM22 242h19v1h-19z"/></g>
<g transform="translate(642,0)"><path fill="#00ff00" d="M15 213h31v1h-31zM12 215h37v1h-37zM6 220h49v1h-49zM5 222h52v1h-52zM2 228h58v1h-58zM1 230h59v1h-59zM0 236h61v1h-61zM0 238h62v1h-62zM0 244h61v1h-61zM0 246h61v1h-61zM2 252h57v1h-57zM3 254h55v1h-55zM7 260h47v1h-47zM9 262h43v1h-43zM18 268h25v1h-25zM24 270h13v1h-13z"/><path fill="url(#p3)" d="M13 214h35v1h-35zM5 221h51v1h-51zM4 223h53v1h-53zM1 229h59v1h-59zM1 231h60v1h-60zM0 237h62v1h-62zM0 239h62v1h-62zM0 245h61v1h-61zM1 247h60v1h-60zM3 253h55v1h-55zM4 255h53v1h-53zM8 261h45v1h-45zM10 263h41v1h-41zM21 269h20v1h-20z"/></g>
<g transform="translate(842,0)"><path fill="url(#p4)" d="M15 257h32v1h-32zM12 259h38v1h-38zM6 264h49v1h-49zM5 266h52v1h-52zM2 272h58v1h-58zM1 274h59v1h-59zM0 280h62v1h-62zM0 282h62v1h-62zM0 288h61v1h-61zM0 290h61v1h-61zM2 296h57v1h-57zM3 298h55v1h-55zM8 304h46v1h-46zM10 306h42v1h-42zM19 312h24v1h-24zM25 314h11v1h-11z"/><path fill="url(#p5)" d="M13 258h35v1h-35zM5 265h51v1h-51zM1 273h59v1h-59zM0 281h62v1h-62zM0 289h61v1h-61zM3 297h55v1h-55zM9 305h44v1h-44zM21 313h19v1h-19z"/><path fill="url(#p6)" d="M4 267h53v1h-53zM1 275h60v1h-60zM0 283h62v1h-62zM1 291h60v1h-60zM4 299h53v1h-53zM11 307h40v1h-40z"/></g>
<g transform="translate(1242,0)"><path fill="url(#p7)" d="M10 327h41v1h-41zM3 335h55v1h-55zM0 343h61v1h-61zM0 351h61v1h-61zM1 359h59v1h-59zM4 366h53v1h-53zM11 374h39v1h-39z"/></g>
<g transform="translate(1543,0)"><path fill="url(#p7)" d="M10 404h42v1h-42zM4 412h54v1h-54zM1 420h60v1h-60zM0 428h62v1h-62zM1 436h60v1h-60zM5 443h52v1h-52zM12 451h38v1h-38z"/></g>
<g transform="translate(1843,0)"><path fill="#00ff00" d="M13 495h36v1h-36zM11 497h40v1h-40zM5 503h52v1h-52zM4 505h54v1h-54zM1 511h59v1h-59zM1 513h60v1h-60zM0 519h62v1h-62zM0 521h62v1h-62zM1 527h60v1h-60zM1 529h60v1h-60zM3 534h56v1h-56zM4 536h53v1h-53zM9 542h44v1h-44zM11 544h40v1h-40zM22 550h18v1h-18z"/><path fill="url(#p3)" d="M12 496h38v1h-38zM9 498h43v1h-43zM5 504h52v1h-52zM4 506h54v1h-54zM1 512h60v1h-60zM1 514h60v1h-60zM0 520h62v1h-62zM0 522h62v1h-62zM1 528h60v1h-60zM1 530h60v1h-60zM4 535h54v1h-54zM5 537h52v1h-52zM10 543h42v1h-42zM12 545h37v1h-37zM27 551h8v1h-8z"/></g>
<g transform="translate(1903,0)"><path fill="url(#p8)" d="M16 560h30v1h-30zM7 567h48v1h-48zM2 575h58v1h-58zM0 583h62v1h-62zM0 591h62v1h-62zM3 599h56v1h-56zM7 607h48v1h-48zM18 615h26v1h-26z"/><path fill="url(#p9)" d="M14 561h34v1h-34zM6 568h50v1h-50zM2 576h58v1h-58zM0 584h62v1h-62zM0 592h62v1h-62zM3 600h56v1h-56zM8 608h46v1h-46zM20 616h22v1h-22z"/><path fill="url(#p4)" d="M13 562h36v1h-36zM5 569h52v1h-52zM1 577h60v1h-60zM0 585h62v1h-62zM1 593h60v1h-60zM3 601h56v1h-56zM9 609h44v1h-44zM23 617h16v1h-16z"/><path fill="url(#p10)" d="M12 563h38v1h-38zM5 570h52v1h-52zM1 578h60v1h-60zM0 586h62v1h-62zM1 594h60v1h-60zM4 602h54v1h-54zM10 610h42v1h-42z"/></g>
</g>
<g id="fit-design" fill="#99ddad" shape-rendering="crispEdges">
<path d="M471 211h4v1h3v1h1v1h1v2h1v6h-1v2h-1v1h-1v1h-3v1h-4v-1h-3v-1h-1v-1h-1v-2h-1v-6h1v-2h1v-1h1v-1h3zM497 214h4v1h3v1h1v1h1v2h1v6h-1v2h-1v1h-1v1h-3v1h-4v-1h-3v-1h-1v-1h-1v-2h-1v-6h1v-2h1v-1h1v-1h3zM523 216h4v1h3v1h1v1h1v2h1v6h-1v2h-1v1h-1v1h-3v1h-4v-1h-3v-1h-1v-1h-1v-2h-1v-6h1v-2h1v-1h1v-1h3zM550 218h4v1h3v1h1v1h1v2h1v6h-1v2h-1v1h-1v1h-3v1h-4v-1h-3v-1h-1v-1h-1v-2h-1v-6h1v-2h1v-1h1v-1h3zM577 221h4v1h3v1h1v1h1v2h1v6h-1v2h-1v1h-1v1h-3v1h-4v-1h-3v-1h-1v-1h-1v-2h-1v-6h1v-2h1v-1h1v-1h3zM604 224h4v1h3v1h1v1h1v2h1v6h-1v2h-1v1h-1v1h-3v1h-4v-1h-3v-1h-1v-1h-1v-2h-1v-6h1v-2h1v-1h1v-1h3zM631 227h4v1h3v1h1v1h1v2h1v6h-1v2h-1v1h-1v1h-3v1h-4v-1h-3v-1h-1v-1h-1v-2h-1v-6h1v-2h1v-1h1v-1h3zM657 230h4v1h3v1h1v1h1v2h1v6h-1v2h-1v1h-1v1h-3v1h-4v-1h-3v-1h-1v-1h-1v-2h-1v-6h1v-2h1v-1h1v-1h3zM682 233h4v1h3v1h1v1h1v2h1v6h-1v2h-1v1h-1v1h-3v1h-4v-1h-3v-1h-1v-1h-1v-2h-1v-6h1v-2h1v-1h1v-1h3zM709 237h4v1h3v1h1v1h1v2h1v6h-1v2h-1v1h-1v1h-3v1h-4v-1h-3v-1h-1v-1h-1v-2h-1v-6h1v-2h1v-1h1v-1h3zM736 240h4v1h3v1h1v1h1v2h1v6h-1v2h-1v1h-1v1h-3v1h-4v-1h-3v-1h-1v-1h-1v-2h-1v-6h1v-2h1v-1h1v-1h3zM762 244h4v1h3v1h1v1h1v2h1v6h-1v2h-1v1h-1v1h-3v1h-4v-1h-3v-1h-1v-1h-1v-2h-1v-6h1v-2h1v-1h1v-1h3zM789 248h4v1h3v1h1v1h1v2h1v6h-1v2h-1v1h-1v1h-3v1h-4v-1h-3v-1h-1v-1h-1v-2h-1v-6h1v-2h1v-1h1v-1h3zM815 252h4v1h3v1h1v1h1v2h1v6h-1v2h-1v1h-1v1h-3v1h-4v-1h-3v-1h-1v-1h-1v-2h-1v-6h1v-2h1v-1h1v-1h3zM842 256h4v1h3v1h1v1h1v2h1v6h-1v2h-1v1h-1v1h-3v1h-4v-1h-3v-1h-1v-1h-1v-2h-1v-6h1v-2h1v-1h1v-1h3zM869 260h4v1h3v1h1v1h1v2h1v6h-1v2h-1v1h-1v1h-3v1h-4v-1h-3v-1h-1v-1h-1v-2h-1v-6h1v-2h1v-1h1v-1h3zM895 265h4v1h3v1h1v1h1v2h1v6h-1v2h-1v1h-1v1h-3v1h-4v-1h-3v-1h-1v-1h-1v-2h-1v-6h1v-2h1v-1h1v-1h3zM922 270h4v1h3v1h1v1h1v2h1v6h-1v2h-1v1h-1v1h-3v1h-4v-1h-3v-1h-1v-1h-1v-2h-1v-6h1v-2h1v-1h1v-1h3zM948 274h4v1h3v1h1v1h1v2h1v6h-1v2h-1v1h-1v1h-3v1h-4v-1h-3v-1h-1v-1h-1v-2h-1v-6h1v-2h1v-1h1v-1h3zM974 280h4v1h3v1h1v1h1v2h1v6h-1v2h-1v1h-1v1h-3v1h-4v-1h-3v-1h-1v-1h-1v-2h-1v-6h1v-2h1v-1h1v-1h3zM1000 284h4v1h3v1h1v1h1v2h1v6h-1v2h-1v1h-1v1h-3v1h-4v-1h-3v-1h-1v-1h-1v-2h-1v-6h1v-2h1v-1h1v-1h3zM1026 289h4v1h3v1h1v1h1v2h1v6h-1v2h-1v1h-1v1h-3v1h-4v-1h-3v-1h-1v-1h-1v-2h-1v-6h1v-2h1v-1h1v-1h3zM1052 294h4v1h3v1h1v1h1v2h1v6h-1v2h-1v1h-1v1h-3v1h-4v-1h-3v-1h-1v-1h-1v-2h-1v-6h1v-2h1v-1h1v-1h3zM1078 300h4v1h3v1h1v1h1v2h1v6h-1v2h-1v1h-1v1h-3v1h-4v-1h-3v-1h-1v-1h-1v-2h-1v-6h1v-2h1v-1h1v-1h3zM1105 305h4v1h3v1h1v1h1v2h1v6h-1v2h-1v1h-1v1h-3v1h-4v-1h-3v-1h-1v-1h-1v-2h-1v-6h1v-2h1v-1h1v-1h3zM1131 311h4v1h3v1h1v1h1v2h1v6h-1v2h-1v1h-1v1h-3v1h-4v-1h-3v-1h-1v-1h-1v-2h-1v-6h1v-2h1v-1h1v-1h3zM1157 317h4v1h3v1h1v1h1v2h1v6h-1v2h-1v1h-1v1h-3v1h-4v-1h-3v-1h-1v-1h-1v-2h-1v-6h1v-2h1v-1h1v-1h3zM1184 323h4v1h3v1h1v1h1v2h1v6h-1v2h-1v1h-1v1h-3v1h-4v-1h-3v-1h-1v-1h-1v-2h-1v-6h1v-2h1v-1h1v-1h3zM1210 329h4v1h3v1h1v1h1v2h1v6h-1v2h-1v1h-1v1h-3v1h-4v-1h-3v-1h-1v-1h-1v-2h-1v-6h1v-2h1v-1h1v-1h3zM1237 335h4v1h3v1h1v1h1v2h1v6h-1v2h-1v1h-1v1h-3v1h-4v-1h-3v-1h-1v-1h-1v-2h-1v-6h1v-2h1v-1h1v-1h3zM1263 342h4v1h3v1h1v1h1v2h1v6h-1v2h-1v1h-1v1h-3v1h-4v-1h-3v-1h-1v-1h-1v-2h-1v-6h1v-2h1v-1h1v-1h3zM1289 349h4v1h3v1h1v1h1v2h1v6h-1v2h-1v1h-1v1h-3v1h-4v-1h-3v-1h-1v-1h-1v-2h-1v-6h1v-2h1v-1h1v-1h3zM1315 355h4v1h3v1h1v1h1v2h1v6h-1v2h-1v1h-1v1h-3v1h-4v-1h-3v-1h-1v-1h-1v-2h-1v-6h1v-2h1v-1h1v-1h3zM1342 362h4v1h3v1h1v1h1v2h1v6h-1v2h-1v1h-1v1h-3v1h-4v-1h-3v-1h-1v-1h-1v-2h-1v-6h1v-2h1v-1h1v-1h3zM1368 370h4v1h3v1h1v1h1v2h1v6h-1v2h-1v1h-1v1h-3v1h-4v-1h-3v-1h-1v-1h-1v-2h-1v-6h1v-2h1v-1h1v-1h3zM1394 377h4v1h3v1h1v1h1v2h1v6h-1v2h-1v1h-1v1h-3v1h-4v-1h-3v-1h-1v-1h-1v-2h-1v-6h1v-2h1v-1h1v-1h3zM1420 384h4v1h3v1h1v1h1v2h1v6h-1v2h-1v1h-1v1h-3v1h-4v-1h-3v-1h-1v-1h-1v-2h-1v-6h1v-2h1v-1h1v-1h3zM1447 391h4v1h3v1h1v1h1v2h1v6h-1v2h-1v1h-1v1h-3v1h-4v-1h-3v-1h-1v-1h-1v-2h-1v-6h1v-2h1v-1h1v-1h3zM1474 399h4v1h3v1h1v1h1v2h1v6h-1v2h-1v1h-1v1h-3v1h-4v-1h-3v-1h-1v-1h-1v-2h-1v-6h1v-2h1v-1h1v-1h3zM1494 405h4v1h3v1h1v1h1v2h1v6h-1v2h-1v1h-1v1h-3v1h-4v-1h-3v-1h-1v-1h-1v-2h-1v-6h1v-2h1v-1h1v-1h3zM1521 413h4v1h3v1h1v1h1v2h1v6h-1v2h-1v1h-1v1h-3v1h-4v-1h-3v-1h-1v-1h-1v-2h-1v-6h1v-2h1v-1h1v-1h3zM1546 421h4v1h3v1h1v1h1v2h1v6h-1v2h-1v1h-1v1h-3v1h-4v-1h-3v-1h-1v-1h-1v-2h-1v-6h1v-2h1v-1h1v-1h3zM1571 428h4v1h3v1h1v1h1v2h1v6h-1v2h-1v1h-1v1h-3v1h-4v-1h-3v-1h-1v-1h-1v-2h-1v-6h1v-2h1v-1h1v-1h3zM1596 436h4v1h3v1h1v1h1v2h1v6h-1v2h-1v1h-1v1h-3v1h-4v-1h-3v-1h-1v-1h-1v-2h-1v-6h1v-2h1v-1h1v-1h3zM1620 444h4v1h3v1h1v1h1v2h1v6h-1v2h-1v1h-1v1h-3v1h-4v-1h-3v-1h-1v-1h-1v-2h-1v-6h1v-2h1v-1h1v-1h3zM1646 453h4v1h3v1h1v1h1v2h1v6h-1v2h-1v1h-1v1h-3v1h-4v-1h-3v-1h-1v-1h-1v-2h-1v-6h1v-2h1v-1h1v-1h3zM1672 462h4v1h3v1h1v1h1v2h1v6h-1v2h-1v1h-1v1h-3v1h-4v-1h-3v-1h-1v-1h-1v-2h-1v-6h1v-2h1v-1h1v-1h3zM1698 470h4v1h3v1h1v1h1v2h1v6h-1v2h-1v1h-1v1h-3v1h-4v-1h-3v-1h-1v-1h-1v-2h-1v-6h1v-2h1v-1h1v-1h3zM1721 478h4v1h3v1h1v1h1v2h1v6h-1v2h-1v1h-1v1h-3v1h-4v-1h-3v-1h-1v-1h-1v-2h-1v-6h1v-2h1v-1h1v-1h3zM1747 488h4v1h3v1h1v1h1v2h1v6h-1v2h-1v1h-1v1h-3v1h-4v-1h-3v-1h-1v-1h-1v-2h-1v-6h1v-2h1v-1h1v-1h3zM1772 496h4v1h3v1h1v1h1v2h1v6h-1v2h-1v1h-1v1h-3v1h-4v-1h-3v-1h-1v-1h-1v-2h-1v-6h1v-2h1v-1h1v-1h3zM1795 505h4v1h3v1h1v1h1v2h1v6h-1v2h-1v1h-1v1h-3v1h-4v-1h-3v-1h-1v-1h-1v-2h-1v-6h1v-2h1v-1h1v-1h3zM1821 514h4v1h3v1h1v1h1v2h1v6h-1v2h-1v1h-1v1h-3v1h-4v-1h-3v-1h-1v-1h-1v-2h-1v-6h1v-2h1v-1h1v-1h3zM1846 524h4v1h3v1h1v1h1v2h1v6h-1v2h-1v1h-1v1h-3v1h-4v-1h-3v-1h-1v-1h-1v-2h-1v-6h1v-2h1v-1h1v-1h3zM1870 532h4v1h3v1h1v1h1v2h1v6h-1v2h-1v1h-1v1h-3v1h-4v-1h-3v-1h-1v-1h-1v-2h-1v-6h1v-2h1v-1h1v-1h3zM1893 541h4v1h3v1h1v1h1v2h1v6h-1v2h-1v1h-1v1h-3v1h-4v-1h-3v-1h-1v-1h-1v-2h-1v-6h1v-2h1v-1h1v-1h3zM1918 550h4v1h3v1h1v1h1v2h1v6h-1v2h-1v1h-1v1h-3v1h-4v-1h-3v-1h-1v-1h-1v-2h-1v-6h1v-2h1v-1h1v-1h3z"/>
</g>
<g id="legend">
<g shape-rendering="crispEdges">
<g transform="translate(1596,0)"><path fill="url(#p11)" d="M18 1110h26v1h-26zM14 1112h34v1h-34zM7 1118h48v1h-48zM6 1120h22v1h-22zM34 1120h22v1h-22zM3 1126h14v1h-14zM45 1126h14v1h-14zM2 1128h14v1h-14zM46 1128h14v1h-14zM0 1134h13v1h-13zM49 1134h13v1h-13zM0 1136h13v1h-13zM49 1136h13v1h-13zM0 1142h13v1h-13zM49 1142h13v1h-13zM0 1144h14v1h-14zM48 1144h14v1h-14zM2 1150h15v1h-15zM45 1150h15v1h-15zM3 1152h16v1h-16zM43 1152h16v1h-16zM7 1157h48v1h-48zM8 1159h46v1h-46zM16 1165h30v1h-30zM20 1167h22v1h-22z"/><path fill="#ff0000" d="M16 1111h30v1h-30zM13 1113h36v1h-36zM7 1119h48v1h-48zM5 1121h20v1h-20zM37 1121h20v1h-20zM2 1127h15v1h-15zM45 1127h15v1h-15zM1 1129h14v1h-14zM47 1129h14v1h-14zM0 1135h13v1h-13zM49 1135h13v1h-13zM0 1137h13v1h-13zM49 1137h13v1h-13zM0 1143h13v1h-13zM49 1143h13v1h-13zM1 1145h13v1h-13zM48 1145h13v1h-13zM3 1151h15v1h-15zM44 1151h15v1h-15zM4 1153h16v1h-16zM42 1153h16v1h-16zM8 1158h46v1h-46zM9 1160h44v1h-44zM18 1166h26v1h-26zM24 1168h14v1h-14zM25 1133h12v1h-12zM23 1136h16v1h-16zM23 1137h16v1h-16zM23 1139h16v1h-16zM23 1140h16v1h-16zM24 1142h14v1h-14zM24 1143h14v1h-14zM25 1144h12v1h-12z"/><path fill="url(#p12)" d="M24 1134h14v1h-14zM23 1135h16v1h-16zM23 1138h16v1h-16zM23 1141h16v1h-16z"/></g>
<g transform="translate(1596,0)"><path fill="url(#p4)" d="M12 1199h38v1h-38zM10 1201h42v1h-42zM5 1207h52v1h-52zM4 1209h54v1h-54zM1 1215h60v1h-60zM1 1217h60v1h-60zM0 1223h62v1h-62zM0 1225h62v1h-62zM1 1231h60v1h-60zM1 1233h60v1h-60zM4 1239h54v1h-54zM10 1246h42v1h-42zM12 1248h38v1h-38zM25 1254h12v1h-12z"/><path fill="url(#p5)" d="M11 1200h40v1h-40zM4 1208h54v1h-54zM1 1216h60v1h-60zM0 1224h62v1h-62zM1 1232h60v1h-60zM4 1240h54v1h-54zM11 1247h40v1h-40z"/><path fill="url(#p6)" d="M9 1202h44v1h-44zM3 1210h56v1h-56zM1 1218h60v1h-60zM0 1226h62v1h-62zM2 1234h58v1h-58zM6 1241h50v1h-50zM13 1249h36v1h-36z"/></g>
</g>
<text class="leg" x="1723" y="1164">Exp</text>
<text class="leg" x="1723" y="1250">Design</text>
</g>
<g id="axes" fill="#000" shape-rendering="crispEdges">
<rect x="250" y="42" width="1876" height="7"/>
<rect x="250" y="1521" width="1876" height="6"/>
<rect x="276" y="42" width="6" height="1512"/>
<rect x="2119" y="42" width="7" height="1497"/>
<rect x="398" y="1527" width="7" height="12"/>
<rect x="398" y="49" width="7" height="11"/>
<rect x="521" y="1527" width="6" height="27"/>
<rect x="521" y="49" width="6" height="26"/>
<rect x="644" y="1527" width="6" height="12"/>
<rect x="644" y="49" width="6" height="11"/>
<rect x="767" y="1527" width="6" height="27"/>
<rect x="767" y="49" width="6" height="26"/>
<rect x="890" y="1527" width="6" height="12"/>
<rect x="890" y="49" width="6" height="11"/>
<rect x="1013" y="1527" width="6" height="27"/>
<rect x="1013" y="49" width="6" height="26"/>
<rect x="1135" y="1527" width="7" height="12"/>
<rect x="1135" y="49" width="7" height="11"/>
<rect x="1258" y="1527" width="7" height="27"/>
<rect x="1258" y="49" width="7" height="26"/>
<rect x="1381" y="1527" width="7" height="12"/>
<rect x="1381" y="49" width="7" height="11"/>
<rect x="1504" y="1527" width="7" height="27"/>
<rect x="1504" y="49" width="7" height="26"/>
<rect x="1627" y="1527" width="7" height="12"/>
<rect x="1627" y="49" width="6" height="11"/>
<rect x="1750" y="1527" width="7" height="27"/>
<rect x="1750" y="49" width="6" height="26"/>
<rect x="1873" y="1527" width="6" height="12"/>
<rect x="1873" y="49" width="6" height="11"/>
<rect x="1996" y="1527" width="6" height="27"/>
<rect x="1996" y="49" width="6" height="26"/>
<rect x="264" y="1439" width="12" height="6"/>
<rect x="2107" y="1439" width="12" height="6"/>
<rect x="250" y="1356" width="26" height="7"/>
<rect x="2093" y="1356" width="26" height="7"/>
<rect x="264" y="1274" width="12" height="7"/>
<rect x="2107" y="1274" width="12" height="7"/>
<rect x="250" y="1192" width="26" height="7"/>
<rect x="2093" y="1192" width="26" height="7"/>
<rect x="264" y="1110" width="12" height="7"/>
<rect x="2107" y="1110" width="12" height="7"/>
<rect x="250" y="1028" width="26" height="6"/>
<rect x="2093" y="1028" width="26" height="6"/>
<rect x="264" y="946" width="12" height="6"/>
<rect x="2107" y="946" width="12" height="6"/>
<rect x="250" y="864" width="26" height="6"/>
<rect x="2093" y="864" width="26" height="6"/>
<rect x="264" y="782" width="12" height="6"/>
<rect x="2107" y="782" width="12" height="6"/>
<rect x="250" y="699" width="26" height="7"/>
<rect x="2093" y="699" width="26" height="7"/>
<rect x="264" y="617" width="12" height="7"/>
<rect x="2107" y="617" width="12" height="7"/>
<rect x="250" y="535" width="26" height="7"/>
<rect x="2093" y="535" width="26" height="7"/>
<rect x="264" y="453" width="12" height="6"/>
<rect x="2107" y="453" width="12" height="6"/>
<rect x="250" y="371" width="26" height="6"/>
<rect x="2093" y="371" width="26" height="6"/>
<rect x="264" y="289" width="12" height="6"/>
<rect x="2107" y="289" width="12" height="6"/>
<rect x="250" y="207" width="26" height="6"/>
<rect x="2093" y="207" width="26" height="6"/>
<rect x="264" y="124" width="12" height="7"/>
<rect x="2107" y="124" width="12" height="7"/>
</g>
<g id="ylabels" class="tick" text-anchor="end">
<text x="228.2" y="1542.3">0.25</text>
<text x="228.2" y="1378.0">0.30</text>
<text x="228.2" y="1213.8">0.35</text>
<text x="228.2" y="1049.5">0.40</text>
<text x="228.2" y="885.2">0.45</text>
<text x="228.2" y="720.9">0.50</text>
<text x="228.2" y="556.7">0.55</text>
<text x="228.2" y="392.4">0.60</text>
<text x="228.2" y="228.1">0.65</text>
<text x="228.2" y="63.8">0.70</text>
</g>
<g id="xlabels" class="tick" text-anchor="middle" style="letter-spacing:-0.35px">
<text x="278.0" y="1620.4">0.018</text>
<text x="523.8" y="1620.4">0.020</text>
<text x="769.6" y="1620.4">0.022</text>
<text x="1015.4" y="1620.4">0.024</text>
<text x="1261.2" y="1620.4">0.026</text>
<text x="1507.0" y="1620.4">0.028</text>
<text x="1752.8" y="1620.4">0.030</text>
<text x="1998.6" y="1620.4">0.032</text>
</g>
<text class="title" text-anchor="middle" x="1201.3" y="1741.8">Flow coefficient</text>
<text class="title" style="font-size:77.2px" text-anchor="middle" transform="translate(87.2,784.9) rotate(-90)">Isentropic head coefficient</text>
</svg>
</body></html>
